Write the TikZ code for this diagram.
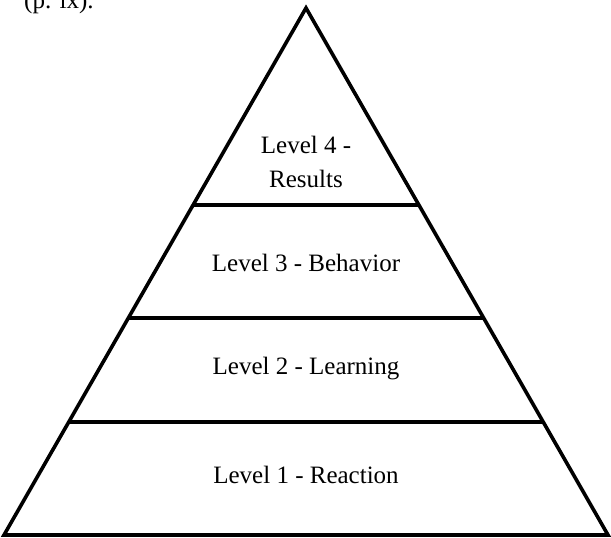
\documentclass[tikz,border=0pt]{standalone}
\usepackage{fontspec}
\setmainfont{Liberation Serif}
\usetikzlibrary{calc}

\begin{document}
\begin{tikzpicture}[
  x=1pt, y=-1pt,
  every node/.style={font=\fontsize{25}{34}\selectfont, align=center, inner sep=0pt},
  edge/.style={draw=black, line width=3.6pt},
  level/.style={anchor=center}
]
\useasboundingbox (0,0) rectangle (611,538);

% cut-off note above the pyramid
\node[anchor=base west] (note) at (24,9) {(p. ix).};

% outline
\coordinate (apex) at (306,8);
\coordinate (bl) at (4,535);
\coordinate (br) at (608,535);
\draw[edge] (bl) -- (apex) -- (br) -- cycle;

% dividers between the levels
\coordinate (l4a) at ($(bl)!0.626!(apex)$);
\coordinate (l4b) at ($(br)!0.626!(apex)$);
\coordinate (l3a) at ($(bl)!0.4118!(apex)$);
\coordinate (l3b) at ($(br)!0.4118!(apex)$);
\coordinate (l2a) at ($(bl)!0.2144!(apex)$);
\coordinate (l2b) at ($(br)!0.2144!(apex)$);
\draw[edge] (l4a) -- (l4b);
\draw[edge] (l3a) -- (l3b);
\draw[edge] (l2a) -- (l2b);

\node[level] (results) at (306,162) {Level 4 -\\Results};
\node[level] (behavior) at (306,263) {Level 3 - Behavior};
\node[level] (learning) at (306,369) {Level 2 - Learning};
\node[level] (reaction) at (306,475) {Level 1 - Reaction};
\end{tikzpicture}
\end{document}
